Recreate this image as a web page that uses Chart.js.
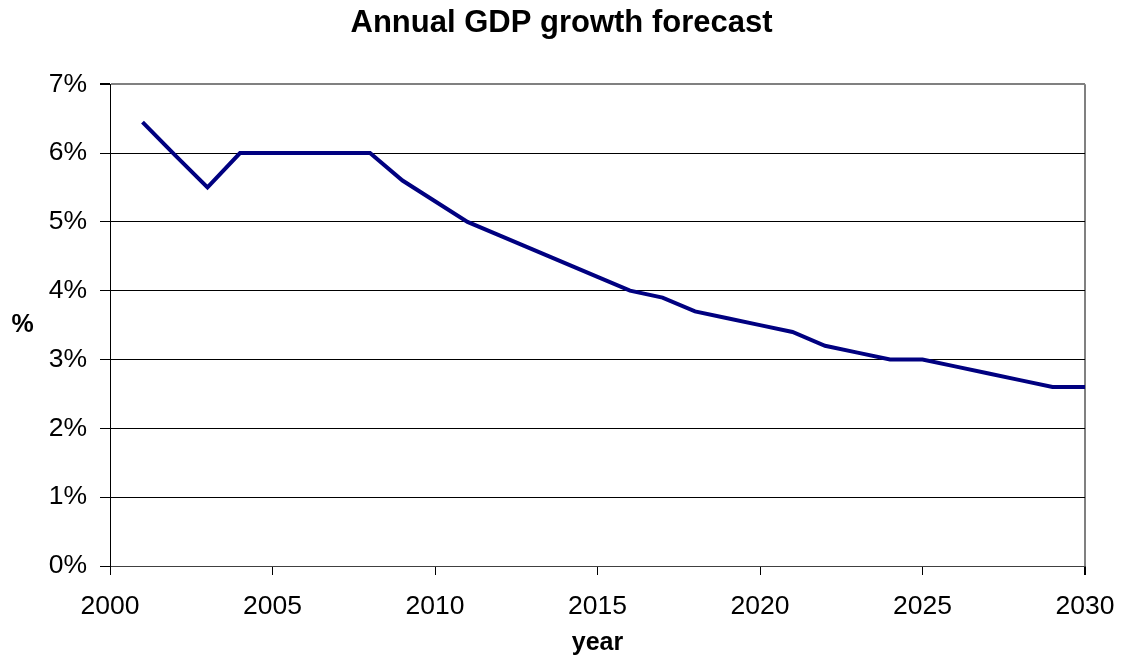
<!DOCTYPE html>
<html>
<head>
<meta charset="utf-8">
<title>Annual GDP growth forecast</title>
<script src="https://cdn.jsdelivr.net/npm/chart.js@4"></script>
<style>
    body { margin: 0; background: #ffffff; }
    #chartLine { display: block; }
</style>
</head>
<body>
<canvas id="chartLine" width="1123" height="660"></canvas>
<script>
    // du lieu doc tu hinh
    var years = [2001, 2002, 2003, 2004, 2005, 2006, 2007, 2008, 2009, 2010,
        2011, 2012, 2013, 2014, 2015, 2016, 2017, 2018, 2019, 2020,
        2021, 2022, 2023, 2024, 2025, 2026, 2027, 2028, 2029, 2030];
    var growth = [6.45, 5.97, 5.5, 6.0, 6.0, 6.0, 6.0, 6.0, 5.6, 5.3,
        5.0, 4.8, 4.6, 4.4, 4.2, 4.0, 3.9, 3.7, 3.6, 3.5,
        3.4, 3.2, 3.1, 3.0, 3.0, 2.9, 2.8, 2.7, 2.6, 2.6];
    var xTicks = [2000, 2005, 2010, 2015, 2020, 2025, 2030];
    var yTicks = [0, 1, 2, 3, 4, 5, 6, 7];

    var fontFamily = '"Liberation Sans", Arial, sans-serif';

    var points = [];
    for (var i = 0; i < years.length; i++) {
        points.push({ x: years[i], y: growth[i] });
    }

    // chu "%" dung thang ben trai
    var yTitlePlugin = {
        id: 'yTitle',
        afterDraw: function (chart) {
            var ctx = chart.ctx;
            var area = chart.chartArea;
            ctx.save();
            ctx.font = 'bold 25px ' + fontFamily;
            ctx.fillStyle = '#000000';
            ctx.textAlign = 'center';
            ctx.textBaseline = 'middle';
            ctx.fillText('%', 22.5, (area.top + area.bottom) / 2);
            ctx.restore();
        }
    };

    var ctx = document.getElementById('chartLine').getContext('2d');

    var myLineChart = new Chart(ctx, {
        type: 'line',
        data: {
            datasets: [{
                label: 'GDP growth',
                data: points,
                borderColor: '#000080',
                borderWidth: 4,
                pointRadius: 0,
                pointHoverRadius: 0,
                fill: false,
                tension: 0
            }]
        },
        options: {
            responsive: false,
            animation: false,
            layout: {
                padding: 0
            },
            plugins: {
                legend: { display: false },
                tooltip: { enabled: false },
                title: {
                    display: true,
                    text: 'Annual GDP growth forecast',
                    color: '#000000',
                    font: { family: fontFamily, size: 31, weight: 'bold', lineHeight: 1.2 },
                    padding: { top: 5, bottom: 42 }
                }
            },
            scales: {
                x: {
                    type: 'linear',
                    min: 2000,
                    max: 2030,
                    afterFit: function (scale) {
                        scale.height = 94;
                        scale.paddingLeft = 0;
                        scale.paddingRight = 38;
                    },
                    afterBuildTicks: function (scale) {
                        scale.ticks = xTicks.map(function (v) { return { value: v }; });
                    },
                    ticks: {
                        color: '#000000',
                        font: { family: fontFamily, size: 26.5 },
                        padding: 16,
                        maxRotation: 0,
                        callback: function (v) { return String(v); }
                    },
                    grid: {
                        drawOnChartArea: true,
                        tickLength: 9,
                        tickColor: '#000000',
                        color: function (c) {
                            if (c.tick && c.tick.value === 2030) return '#808080';
                            return 'rgba(0,0,0,0)';
                        },
                        lineWidth: function (c) {
                            if (c.tick && c.tick.value === 2030) return 2;
                            return 1;
                        }
                    },
                    border: { display: true, color: '#404040', width: 1 },
                    title: {
                        display: true,
                        text: 'year',
                        color: '#000000',
                        font: { family: fontFamily, size: 25, weight: 'bold', lineHeight: 1.2 },
                        padding: { top: 0, bottom: 2 }
                    }
                },
                y: {
                    min: 0,
                    max: 7,
                    afterFit: function (scale) {
                        scale.width = 110;
                    },
                    afterBuildTicks: function (scale) {
                        scale.ticks = yTicks.map(function (v) { return { value: v }; });
                    },
                    ticks: {
                        color: '#000000',
                        font: { family: fontFamily, size: 26.5 },
                        padding: 13,
                        callback: function (v) { return v + '%'; }
                    },
                    grid: {
                        tickLength: 10,
                        tickColor: '#000000',
                        color: function (c) {
                            if (c.tick && c.tick.value === 7) return '#808080';
                            return '#000000';
                        },
                        lineWidth: function (c) {
                            if (c.tick && c.tick.value === 7) return 2;
                            return 1;
                        }
                    },
                    border: { display: true, color: '#000000', width: 1 }
                }
            }
        },
        plugins: [yTitlePlugin]
    });
</script>
</body>
</html>
